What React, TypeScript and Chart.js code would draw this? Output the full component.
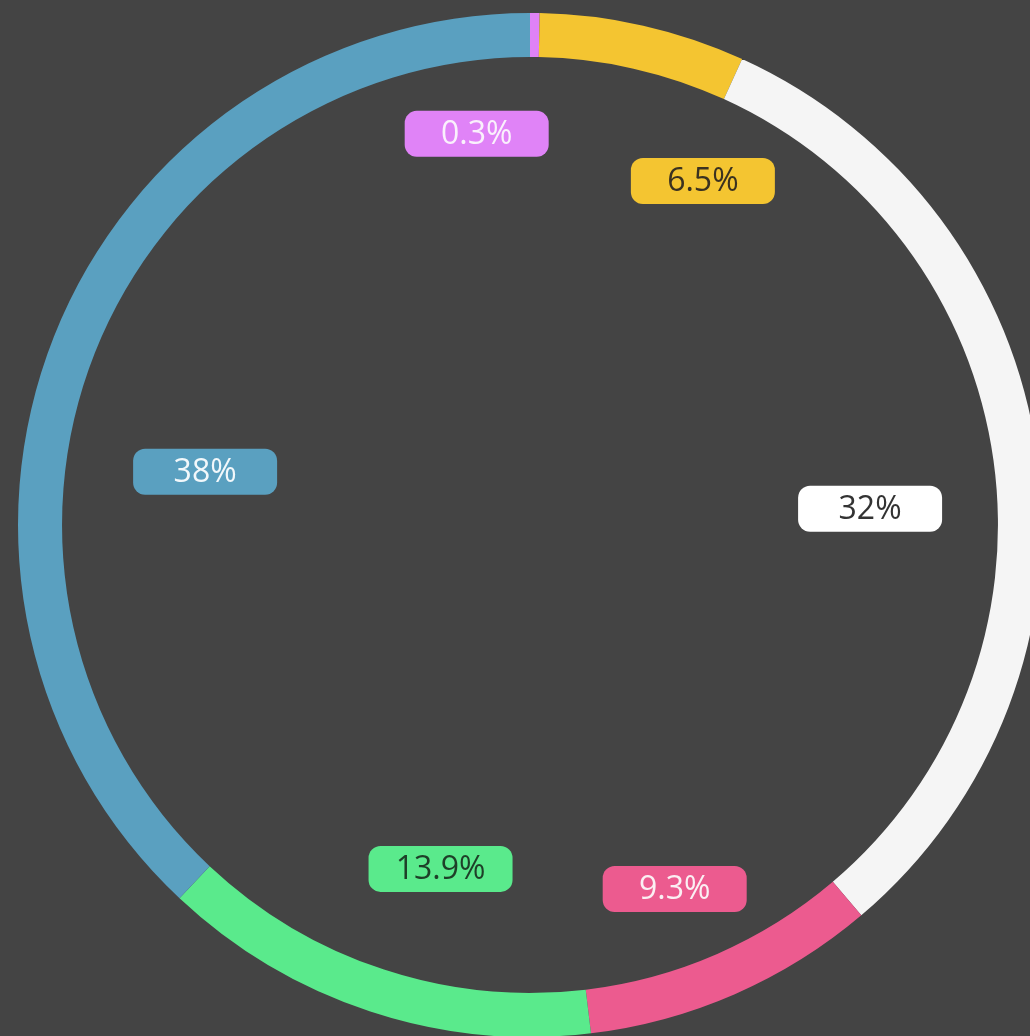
import React, { useEffect, useRef } from "react";
import { Chart, registerables } from "chart.js";

Chart.register(...registerables);

const categories = ["A", "B", "C", "D", "E", "F"];
const shares = [0.3, 6.5, 32, 9.3, 13.9, 38];
const tickLabels = ["0.3%", "6.5%", "32%", "9.3%", "13.9%", "38%"];
const sliceColors = ["#DF82F6", "#F4C531", "#F5F5F5", "#EC5B8F", "#5AEA8C", "#5AA0C0"];
const labelBoxColors = ["#E083F7", "#F4C531", "#FFFFFF", "#EC5B8F", "#5AEA8C", "#5AA0C0"];
const labelTextColors = ["#FAF0FC", "#3B3220", "#333333", "#FBEFF3", "#1E3F28", "#F2F8FB"];

// placement tweaks for each label: angle shift (deg) from slice middle and radius fraction
const labelPlacement = [
  { shift: -8.3, r: 0.771 },
  { shift: 13.9, r: 0.752 },
  { shift: 5.2, r: 0.665 },
  { shift: 1.9, r: 0.765 },
  { shift: -3.6, r: 0.694 },
  { shift: -12.3, r: 0.643 },
];

const boxLabelPlugin = {
  id: "boxLabels",
  afterDatasetsDraw(chart: any) {
    const { ctx } = chart;
    const meta = chart.getDatasetMeta(0);
    ctx.save();
    ctx.font = "32px 'Open Sans', sans-serif";
    ctx.textAlign = "center";
    ctx.textBaseline = "middle";
    meta.data.forEach((arc: any, i: number) => {
      const p = arc.getProps(["x", "y", "startAngle", "endAngle", "outerRadius"], true);
      const mid = (p.startAngle + p.endAngle) / 2 + (labelPlacement[i].shift * Math.PI) / 180;
      const rad = p.outerRadius * labelPlacement[i].r;
      const cx = p.x + Math.cos(mid) * rad;
      const cy = p.y + Math.sin(mid) * rad;
      const w = 144;
      const h = 46;
      ctx.fillStyle = labelBoxColors[i];
      ctx.beginPath();
      ctx.roundRect(cx - w / 2, cy - h / 2, w, h, 12);
      ctx.fill();
      ctx.fillStyle = labelTextColors[i];
      ctx.fillText(tickLabels[i], cx, cy + 1);
    });
    ctx.restore();
  },
};

export default function App() {
  const ref = useRef<HTMLCanvasElement | null>(null);
  useEffect(() => {
    document.body.style.margin = "0";
    document.body.style.background = "#444444";
    const chart = new Chart(ref.current as HTMLCanvasElement, {
      type: "doughnut",
      data: {
        labels: categories,
        datasets: [
          {
            data: shares,
            backgroundColor: sliceColors,
            borderWidth: 0,
          },
        ],
      },
      options: {
        animation: false,
        responsive: false,
        cutout: "91.4%",
        rotation: 0,
        layout: { padding: { left: 18, right: 8, top: 13, bottom: 8 } },
        plugins: {
          legend: { display: false },
          tooltip: { enabled: false },
        },
      },
      plugins: [boxLabelPlugin],
    });
    return () => chart.destroy();
  }, []);
  return (
    <div
      style={{
        position: "absolute",
        left: 0,
        top: 0,
        width: 1030,
        height: 1036,
        overflow: "hidden",
        background: "#444444",
      }}
    >
      <canvas ref={ref} width={1050} height={1045} style={{ width: 1050, height: 1045 }} />
    </div>
  );
}
